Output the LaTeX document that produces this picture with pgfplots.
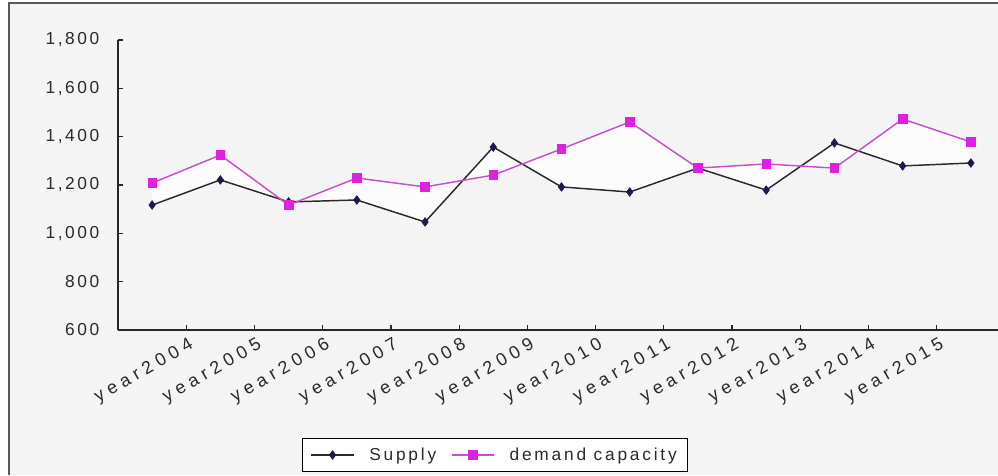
\documentclass[border=0pt]{standalone}
\usepackage{pgfplots}
\pgfplotsset{compat=1.18}
\usepackage{fontspec}
\setmainfont{Liberation Sans}
\newfontfamily\yfont[LetterSpace=15]{Liberation Sans}
\newfontfamily\xfont[LetterSpace=28]{Liberation Sans}
\newfontfamily\lfont[LetterSpace=16]{Liberation Sans}
\definecolor{bg}{HTML}{F4F4F4}
\definecolor{supmark}{HTML}{1A1A50}
\definecolor{supline}{HTML}{2A2A2A}
\definecolor{demmark}{HTML}{E020E0}
\definecolor{demline}{HTML}{C850C8}
\definecolor{txt}{HTML}{2A2A2A}
\begin{document}
\begin{tikzpicture}
\fill[white] (0,0) rectangle (748.5pt,356.25pt);
\fill[bg] (6.75pt,0) rectangle (748.5pt,354pt);
\draw[black!65, line width=1.3pt] (6.75pt,0) -- (6.75pt,354pt) -- (749pt,354pt);
\begin{axis}[
  at={(88.5pt,108.75pt)}, anchor=south west,
  scale only axis, width=665.25pt, height=217.5pt,
  xmin=-0.5, xmax=12.5, ymin=600, ymax=1800,
  axis x line*=bottom, axis y line*=left,
  axis line style={black!85, line width=1pt},
  xtick={0.5,1.5,2.5,3.5,4.5,5.5,6.5,7.5,8.5,9.5,10.5,11.5},
  xticklabels={year2004,year2005,year2006,year2007,year2008,year2009,year2010,year2011,year2012,year2013,year2014,year2015},
  ytick={600,800,1000,1200,1400,1600,1800},
  tick align=inside, major tick length=4pt,
  tick style={black!85, line width=0.9pt},
  /pgf/number format/assume math mode=true,
  /pgf/number format/1000 sep={,},
  yticklabel style={font=\yfont\fontsize{13}{15}\selectfont, text=txt, anchor=east, xshift=-10.5pt},
  xticklabel style={font=\xfont\fontsize{13.5}{15}\selectfont, text=txt, rotate=30, anchor=east, xshift=2pt, yshift=-11pt},
  legend columns=2,
  legend style={at={(0.425,-0.431)}, anchor=center, draw=black, line width=1pt, fill=white,
    font=\lfont\fontsize{13}{15}\selectfont, text=txt, inner xsep=6pt, inner ysep=5pt,
    column sep=9pt},
  legend image code/.code={\draw[mark repeat=2,mark phase=2,#1] plot coordinates {(0pt,0pt)(16pt,0pt)(32pt,0pt)};},
]
% light region between the two series: Supply forward, demand capacity backward
\addplot[fill=white, draw=none, fill opacity=0.8, forget plot]
  coordinates {(0,1117)(1,1221)(2,1130)(3,1138)(4,1047)(5,1357)(6,1192)(7,1171)(8,1270)(9,1179)(10,1374)(11,1279)(12,1291)
               (12,1378)(11,1473)(10,1270)(9,1287)(8,1270)(7,1461)(6,1349)(5,1241)(4,1192)(3,1229)(2,1117)(1,1324)(0,1208)} -- cycle;
\addplot[supline, line width=1.1pt, mark=diamond*, mark size=3.2pt, mark options={fill=supmark, draw=supmark, line width=0.5pt}]
  coordinates {(0,1117)(1,1221)(2,1130)(3,1138)(4,1047)(5,1357)(6,1192)(7,1171)(8,1270)(9,1179)(10,1374)(11,1279)(12,1291)};
\addlegendentry{Supply}
\addplot[demline, line width=1.1pt, mark=square*, mark size=3.2pt, mark options={fill=demmark, draw=demmark, line width=0.5pt}]
  coordinates {(0,1208)(1,1324)(2,1117)(3,1229)(4,1192)(5,1241)(6,1349)(7,1461)(8,1270)(9,1287)(10,1270)(11,1473)(12,1378)};
\addlegendentry{demand capacity}
\end{axis}
\pgfresetboundingbox
\useasboundingbox (0,0) rectangle (748.5pt,356.25pt);
\end{tikzpicture}
\end{document}
